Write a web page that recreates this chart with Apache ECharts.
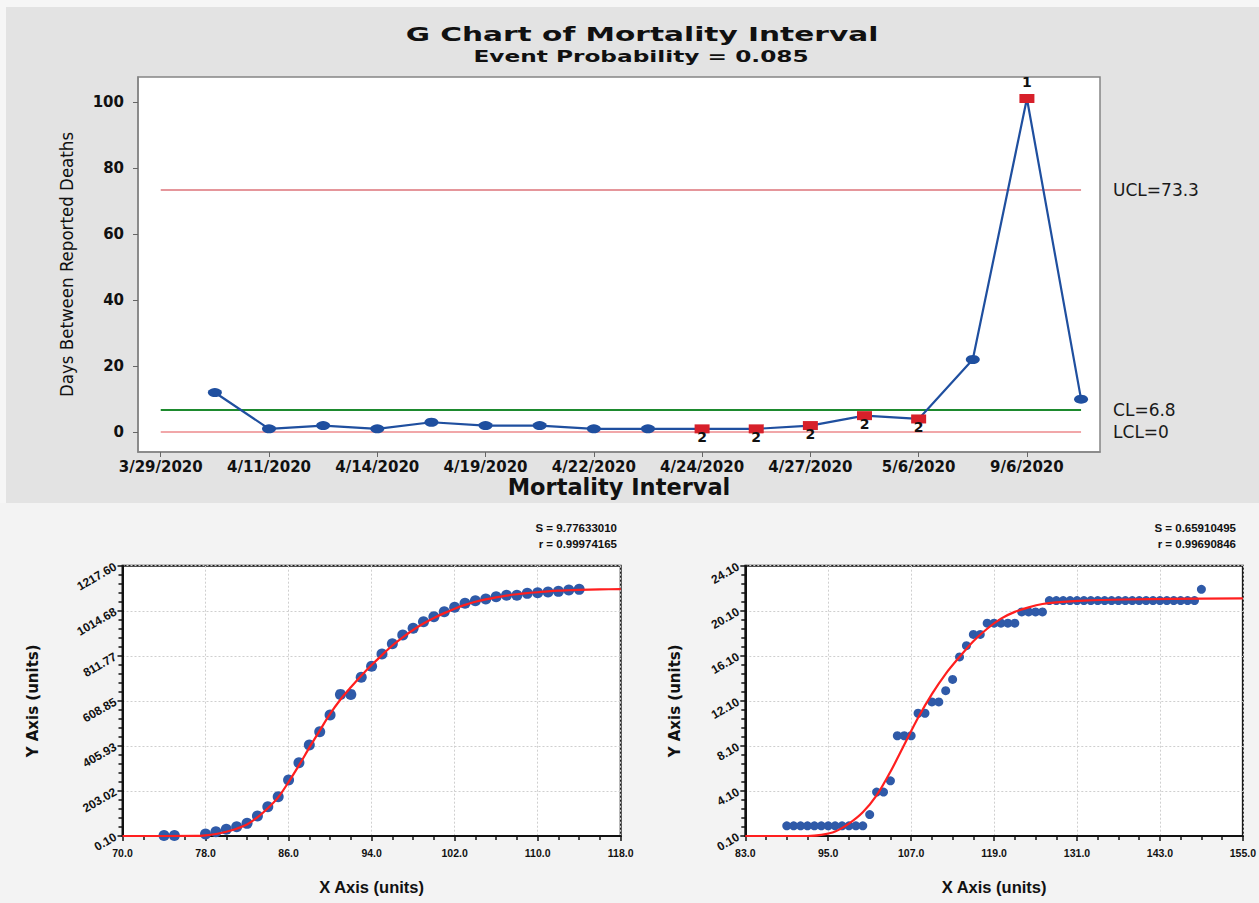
<!DOCTYPE html>
<html><head><meta charset="utf-8">
<script src="https://cdn.jsdelivr.net/npm/echarts@6/dist/echarts.min.js"></script>
<style>
html,body{margin:0;padding:0;background:#f4f4f4;}
#wrap{position:relative;width:1259px;height:903px;overflow:hidden;}
.bg{position:absolute;}
#chart{position:absolute;left:0;top:0;width:1259px;height:903px;}
</style></head><body>
<div id="wrap">
<div class="bg" style="left:0;top:0;width:1259px;height:503px;background:#f6f6f6"></div>
<div class="bg" style="left:6px;top:7px;width:1253px;height:496px;background:#e3e3e3"></div>
<div class="bg" style="left:0;top:503px;width:1259px;height:400px;background:#f3f3f3"></div>
<div id="chart"></div>
</div>
<script>
// ---------- G chart data ----------
const chartTitle = 'G Chart of Mortality Interval';
const chartSubtitle = 'Event Probability = 0.085';
const obsNumber = [1, 2, 3, 4, 5, 6, 7, 8, 9, 10, 11, 12, 13, 14, 15, 16, 17, 18];
const daysBetween = [null, 12, 1, 2, 1, 3, 2, 2, 1, 1, 1, 1, 2, 5, 4, 22, 101, 10];
const failedTest = ['', '', '', '', '', '', '', '', '', '', '2', '2', '2', '2', '2', '', '1', ''];
const dateTickObs = [1, 3, 5, 7, 9, 11, 13, 15, 17];
const dateTickLabels = ['3/29/2020', '4/11/2020', '4/14/2020', '4/19/2020', '4/22/2020', '4/24/2020', '4/27/2020', '5/6/2020', '9/6/2020'];
const yTicksG = [0, 20, 40, 60, 80, 100];
const UCL = 73.3, CL = 6.8, LCL = 0;

// ---------- Fit chart 1 ----------
const fit1Stats = ['S = 9.77633010', 'r = 0.99974165'];
const leftX = [74, 75, 78, 79, 80, 81, 82, 83, 84, 85, 86, 87, 88, 89, 90, 91, 92, 93, 94, 95, 96, 97, 98, 99, 100, 101, 102, 103, 104, 105, 106, 107, 108, 109, 110, 111, 112, 113, 114];
const leftY = [2, 2, 9, 19, 30, 42, 57, 90, 132, 177, 252, 330, 410, 470, 545, 638, 638, 715, 765, 820, 866, 905, 936, 965, 988, 1010, 1030, 1048, 1060, 1068, 1078, 1084, 1084, 1093, 1096, 1099, 1102, 1108, 1111];
const leftFitX = [70, 77, 78, 79, 80, 81, 82, 83, 84, 85, 86, 87, 88, 89, 90, 91, 92, 93, 94, 95, 96, 97, 98, 99, 100, 101, 102, 103, 104, 105, 106, 107, 108, 109, 110, 111, 112, 113, 114, 116, 118];
const leftFitY = [0.1, 0.5, 3, 9, 19, 33, 52, 84, 125, 174, 243, 318, 398, 475, 550, 615, 670, 722, 770, 815, 858, 895, 928, 957, 982, 1004, 1024, 1041, 1055, 1066, 1075, 1083, 1089, 1094, 1098, 1102, 1105, 1107, 1109, 1111, 1112];

// ---------- Fit chart 2 ----------
const fit2Stats = ['S = 0.65910495', 'r = 0.99690846'];
const rightX = [89, 90, 91, 92, 93, 94, 95, 96, 97, 98, 99, 100, 101, 102, 103, 104, 105, 106, 107, 108, 109, 110, 111, 112, 113, 114, 115, 116, 117, 118, 119, 120, 121, 122, 123, 124, 125, 126, 127, 128, 129, 130, 131, 132, 133, 134, 135, 136, 137, 138, 139, 140, 141, 142, 143, 144, 145, 146, 147, 148, 149];
const rightY = [1, 1, 1, 1, 1, 1, 1, 1, 1, 1, 1, 1, 2, 4, 4, 5, 9, 9, 9, 11, 11, 12, 12, 13, 14, 16, 17, 18, 18, 19, 19, 19, 19, 19, 20, 20, 20, 20, 21, 21, 21, 21, 21, 21, 21, 21, 21, 21, 21, 21, 21, 21, 21, 21, 21, 21, 21, 21, 21, 21, 22];
const rightFitX = [83, 92, 94, 96, 98, 100, 102, 104, 106, 108, 110, 112, 114, 116, 118, 120, 122, 124, 126, 128, 132, 138, 145, 155];
const rightFitY = [0.1, 0.1, 0.2, 0.5, 1.2, 2.2, 3.7, 5.8, 8.2, 10.6, 12.7, 14.5, 16.0, 17.4, 18.5, 19.4, 20.0, 20.4, 20.7, 20.85, 21.0, 21.1, 21.15, 21.2];

const WIDE = "'DejaVu Sans', 'Open Sans', sans-serif";
const COND = "'DejaVu Sans Condensed', 'DejaVu Sans', sans-serif";
const ARIAL = "'Liberation Sans', Arial, sans-serif";
const BLUE = '#1f4f9f';
const RED = '#d7202a';
const DOT = '#2f5aa8';
const FITRED = '#ff1f1f';

const gData = [];
obsNumber.forEach((n, i) => {
  const v = daysBetween[i];
  if (v === null) return;
  const flag = failedTest[i];
  const item = { value: [n, v] };
  if (flag) {
    item.symbol = 'rect';
    item.symbolSize = [15, 9];
    item.itemStyle = { color: RED };
    item.label = {
      show: true, formatter: flag,
      position: flag === '1' ? 'top' : 'bottom',
      distance: flag === '1' ? 5 : -3,
      color: '#111', fontFamily: WIDE, fontWeight: 'bold', fontSize: 14
    };
  }
  gData.push(item);
});

function pairs(xs, ys) { return xs.map((x, i) => [x, ys[i]]); }

function bottomXAxis(gridIndex, min, max, interval) {
  return {
    type: 'value', gridIndex, min, max, interval,
    axisLine: { show: true, onZero: false, lineStyle: { color: '#111', width: 2 } },
    axisTick: { show: true, length: 5, lineStyle: { color: '#111', width: 1.5 } },
    minorTick: { show: true, splitNumber: 4, length: 4, lineStyle: { color: '#111', width: 1.5 } },
    splitLine: { show: true, lineStyle: { color: '#cfcfcf', type: [2, 2], width: 1 } },
    axisLabel: { formatter: v => v.toFixed(1), fontFamily: ARIAL, fontWeight: 'bold', fontSize: 10.5, color: '#111', margin: 11 },
    name: 'X Axis (units)', nameLocation: 'middle', nameGap: 42,
    nameTextStyle: { fontFamily: ARIAL, fontWeight: 'bold', fontSize: 16.5, color: '#111' }
  };
}
function bottomYAxis(gridIndex, min, max, interval, gap) {
  return {
    type: 'value', gridIndex, min, max, interval,
    axisLine: { show: true, onZero: false, lineStyle: { color: '#111', width: 2 } },
    axisTick: { show: true, length: 5, lineStyle: { color: '#111', width: 1.5 } },
    minorTick: { show: true, splitNumber: 5, length: 4, lineStyle: { color: '#111', width: 1.5 } },
    splitLine: { show: true, lineStyle: { color: '#cfcfcf', type: [2, 2], width: 1 } },
    axisLabel: { formatter: v => v.toFixed(2), rotate: 30, fontFamily: ARIAL, fontWeight: 'bold', fontSize: 12, color: '#111', margin: 7 },
    name: 'Y Axis (units)', nameLocation: 'middle', nameGap: gap,
    nameTextStyle: { fontFamily: WIDE, fontWeight: 'bold', fontSize: 15, color: '#111' }
  };
}

const chart = echarts.init(document.getElementById('chart'), null, { renderer: 'svg' });
chart.setOption({
  animation: false,
  backgroundColor: 'transparent',
  graphic: [
    { type: 'text', x: 642, y: 34, scaleX: 1.48, style: { text: chartTitle, fontFamily: WIDE, fontWeight: 'bold', fontSize: 20, fill: '#111', align: 'center', verticalAlign: 'middle' } },
    { type: 'text', x: 641, y: 57, scaleX: 1.5, style: { text: chartSubtitle, fontFamily: WIDE, fontWeight: 'bold', fontSize: 15.5, fill: '#111', align: 'center', verticalAlign: 'middle' } },
    { type: 'text', x: 617, y: 528, style: { text: fit1Stats[0], fontFamily: ARIAL, fontWeight: 'bold', fontSize: 11.5, fill: '#111', align: 'right', verticalAlign: 'middle' } },
    { type: 'text', x: 617, y: 544, style: { text: fit1Stats[1], fontFamily: ARIAL, fontWeight: 'bold', fontSize: 11.5, fill: '#111', align: 'right', verticalAlign: 'middle' } },
    { type: 'text', x: 1236, y: 528, style: { text: fit2Stats[0], fontFamily: ARIAL, fontWeight: 'bold', fontSize: 11.5, fill: '#111', align: 'right', verticalAlign: 'middle' } },
    { type: 'text', x: 1236, y: 544, style: { text: fit2Stats[1], fontFamily: ARIAL, fontWeight: 'bold', fontSize: 11.5, fill: '#111', align: 'right', verticalAlign: 'middle' } }
  ],
  grid: [
    { left: 138, top: 77, width: 962, height: 375, show: true, backgroundColor: '#ffffff', borderColor: '#858585', borderWidth: 1.5 },
    { left: 122.5, top: 565.7, width: 498.2, height: 270.3, show: true, backgroundColor: '#ffffff', borderColor: '#1a1a1a', borderWidth: 2 },
    { left: 745.3, top: 565.7, width: 499.4, height: 270.3, show: true, backgroundColor: '#ffffff', borderColor: '#1a1a1a', borderWidth: 2 }
  ],
  xAxis: [
    {
      type: 'value', gridIndex: 0, min: 0.58, max: 18.35,
      axisLine: { show: true, onZero: false, lineStyle: { color: '#858585', width: 1.5 } },
      axisTick: { show: true, length: 5, customValues: dateTickObs, lineStyle: { color: '#666' } },
      splitLine: { show: false },
      axisLabel: {
        customValues: dateTickObs,
        formatter: v => dateTickLabels[dateTickObs.indexOf(v)],
        fontFamily: WIDE, fontWeight: 'bold', fontSize: 15, color: '#111', margin: 7
      },
      name: 'Mortality Interval', nameLocation: 'middle', nameGap: 23,
      nameTextStyle: { fontFamily: WIDE, fontWeight: 'bold', fontSize: 22.5, color: '#111' }
    },
    bottomXAxis(1, 70, 118, 8),
    bottomXAxis(2, 83, 155, 12)
  ],
  yAxis: [
    {
      type: 'value', gridIndex: 0, min: -6, max: 107.5,
      axisLine: { show: true, onZero: false, lineStyle: { color: '#858585', width: 1.5 } },
      axisTick: { show: true, length: 5, customValues: yTicksG, lineStyle: { color: '#666' } },
      splitLine: { show: false },
      axisLabel: { customValues: yTicksG, fontFamily: WIDE, fontWeight: 'bold', fontSize: 15, color: '#111', margin: 14 },
      name: 'Days Between Reported Deaths', nameLocation: 'middle', nameGap: 62,
      nameTextStyle: { fontFamily: COND, fontSize: 18.5, color: '#111' }
    },
    bottomYAxis(1, 0.1, 1217.6, 202.91666666666666, 82),
    bottomYAxis(2, 0.1, 24.1, 4, 63)
  ],
  series: [
    {
      type: 'line', xAxisIndex: 0, yAxisIndex: 0, data: gData, z: 5,
      symbol: 'circle', symbolSize: [14, 9],
      itemStyle: { color: BLUE },
      lineStyle: { color: BLUE, width: 2.2 },
      markLine: {
        silent: true, symbol: 'none',
        label: { show: true, position: 'end', distance: 32, color: '#1a1a1a', fontFamily: WIDE, fontSize: 17 },
        data: [
          [{ coord: [1, UCL], lineStyle: { color: '#dc737a', width: 1.5, type: 'solid' }, label: { formatter: 'UCL=' + UCL } }, { coord: [18, UCL] }],
          [{ coord: [1, CL], lineStyle: { color: '#1d8a2e', width: 2, type: 'solid' }, label: { formatter: 'CL=' + CL } }, { coord: [18, CL] }],
          [{ coord: [1, LCL], lineStyle: { color: '#f1a7a9', width: 2, type: 'solid' }, label: { formatter: 'LCL=' + LCL } }, { coord: [18, LCL] }]
        ]
      }
    },
    {
      type: 'scatter', xAxisIndex: 1, yAxisIndex: 1, data: pairs(leftX, leftY),
      symbolSize: 11, itemStyle: { color: DOT, opacity: 1 }, z: 3
    },
    {
      type: 'line', xAxisIndex: 1, yAxisIndex: 1, data: pairs(leftFitX, leftFitY),
      showSymbol: false, smooth: 0.3, lineStyle: { color: FITRED, width: 2.2 }, z: 4
    },
    {
      type: 'scatter', xAxisIndex: 2, yAxisIndex: 2, data: pairs(rightX, rightY),
      symbolSize: 9, itemStyle: { color: DOT, opacity: 1 }, z: 3
    },
    {
      type: 'line', xAxisIndex: 2, yAxisIndex: 2, data: pairs(rightFitX, rightFitY),
      showSymbol: false, smooth: 0.3, lineStyle: { color: FITRED, width: 2.2 }, z: 4
    }
  ]
});
</script>
</body></html>
